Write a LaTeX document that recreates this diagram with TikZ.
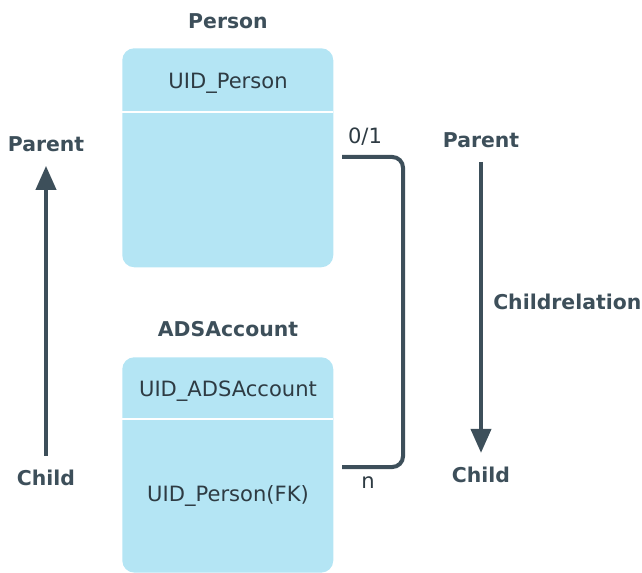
\documentclass[tikz,border=0pt]{standalone}
\usepackage{fontspec}
\setmainfont{DejaVu Sans}
\usetikzlibrary{arrows.meta}
\definecolor{boxblue}{HTML}{B4E5F4}
\definecolor{slate}{HTML}{3D4F5A}
\definecolor{ink}{HTML}{2E3B43}

\begin{document}
\begin{tikzpicture}[x=0.75pt,y=-0.75pt,
    table/.style={fill=boxblue,rounded corners=9pt,minimum width=158.25pt,anchor=north west,inner sep=0pt},
    title/.style={text=slate,font=\fontsize{15.3}{18}\selectfont\bfseries,inner sep=0pt,anchor=base},
    field/.style={text=ink,font=\fontsize{15.8}{19}\selectfont,inner sep=0pt,anchor=base},
    rel/.style={draw=slate,line width=3pt,-{Triangle[width=15pt,length=18pt]}}]
    \useasboundingbox (0,0) rectangle (642,573);
    % tables
    \node[table,minimum height=164.25pt] (person) at (122,48) {};
    \node[table,minimum height=161.5pt] (ads) at (122,357) {};
    \draw[white,line width=1.5pt] (122,112) -- (333,112);
    \draw[white,line width=1.5pt] (122,419) -- (333,419);
    \node[title] (persontitle) at (228,29) {Person};
    \node[title] (adstitle) at (228,337) {ADSAccount};
    \node[field] (uidperson) at (228,89) {UID\_Person};
    \node[field] (uidads) at (228,396) {UID\_ADSAccount};
    \node[field] (fk) at (228,501) {UID\_Person(FK)};
    % relation
    \coordinate (reltop) at (342,157);
    \coordinate (relbot) at (342,467);
    \draw[slate,line width=3pt,rounded corners=8pt] (reltop) -- ++(61,0) |- (relbot);
    \node[field] (one) at (365,144) {0/1};
    \node[field] (many) at (368,488) {n};
    % directions
    \node[title] (lparent) at (46,152) {Parent};
    \node[title] (lchild) at (46,485) {Child};
    \draw[rel,shorten <=10pt,shorten >=10pt] (lchild.north) -- (lparent.south);
    \node[title] (rparent) at (481,148) {Parent};
    \node[title] (rchild) at (481,482) {Child};
    \draw[rel,shorten <=10pt,shorten >=10pt] (rparent.south) -- (rchild.north);
    \node[title,anchor=base west] (childrel) at (493,310) {Childrelation};
\end{tikzpicture}
\end{document}
